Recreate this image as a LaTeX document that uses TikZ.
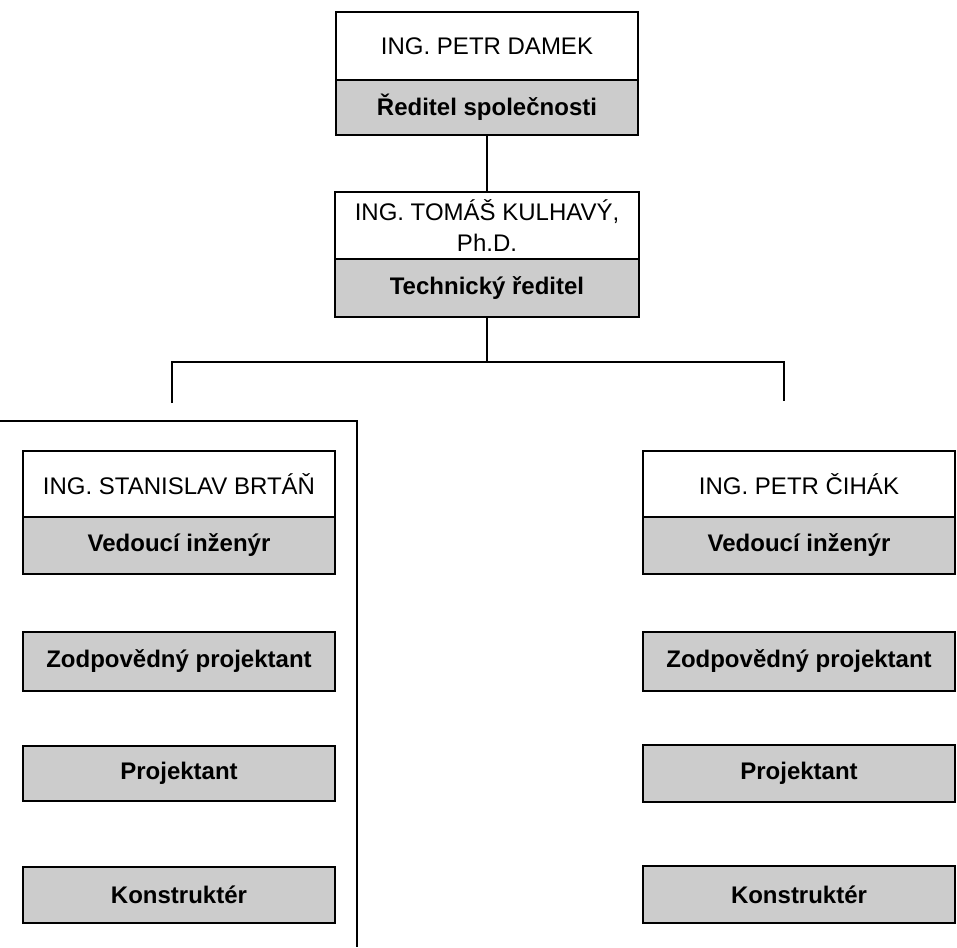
\documentclass[tikz,border=0pt]{standalone}
\usepackage{fontspec}
\setmainfont{Liberation Sans}
\definecolor{shade}{gray}{0.80}
\begin{document}
\begin{tikzpicture}[x=1pt,y=-1pt,
  box/.style={draw=black, line width=1.7pt, inner sep=0pt, align=center},
  namebox/.style={box, fill=white, font=\fontsize{24}{31}\selectfont},
  rolebox/.style={box, fill=shade, font=\fontsize{24}{31}\selectfont\bfseries},
  link/.style={draw=black, line width=1.6pt}]
\useasboundingbox (0,0) rectangle (957,947);

% top
\node[namebox, minimum width=302pt, minimum height=68pt] (n1) at (487,46) {ING. PETR DAMEK};
\node[rolebox, minimum width=302pt, minimum height=55pt] (r1) at (487,107.5) {Ředitel společnosti};

% second
\node[namebox, minimum width=304pt, minimum height=67pt] (n2) at (487,225.5) {ING. TOMÁŠ KULHAVÝ,\\Ph.D.};
\node[rolebox, minimum width=304pt, minimum height=58pt] (r2) at (487,288) {Technický ředitel};

% left column
\node[namebox, minimum width=312pt, minimum height=66pt] (nl) at (179,484) {ING. STANISLAV BRTÁŇ};
\node[rolebox, minimum width=312pt, minimum height=57pt] (rl) at (179,545.5) {Vedoucí inženýr};
\node[rolebox, minimum width=312pt, minimum height=59pt] (zl) at (179,661.5) {Zodpovědný projektant};
\node[rolebox, minimum width=312pt, minimum height=55pt] (pl) at (179,773.5) {Projektant};
\node[rolebox, minimum width=312pt, minimum height=56pt] (kl) at (179,895) {Konstruktér};

% right column
\node[namebox, minimum width=312pt, minimum height=66pt] (nr) at (799,484) {ING. PETR ČIHÁK};
\node[rolebox, minimum width=312pt, minimum height=57pt] (rr) at (799,545.5) {Vedoucí inženýr};
\node[rolebox, minimum width=312pt, minimum height=59pt] (zr) at (799,661.5) {Zodpovědný projektant};
\node[rolebox, minimum width=312pt, minimum height=57pt] (pr) at (799,773.5) {Projektant};
\node[rolebox, minimum width=312pt, minimum height=57pt] (kr) at (799,894.5) {Konstruktér};

% connectors
\draw[link] (r1.south) -- (n2.north);
\coordinate (hub) at (487,362);
\coordinate (lt) at (172,362);
\coordinate (rt) at (784,362);
\coordinate (le) at (172,403);
\coordinate (re) at (784,401);
\draw[link] (r2.south) -- (hub);
\draw[link] (le) -- (lt) -- (rt) -- (re);

% bracket around left column
\coordinate (b0) at (0,421);
\coordinate (b1) at (357,421);
\coordinate (b2) at (357,947);
\draw[link] (b0) -- (b1) -- (b2);
\end{tikzpicture}
\end{document}
